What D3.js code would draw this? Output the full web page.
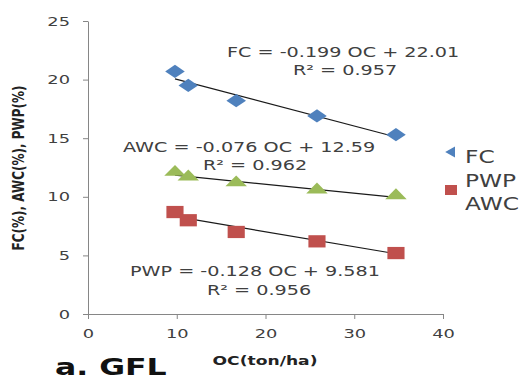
<!DOCTYPE html>
<html lang="en">
<head>
<meta charset="utf-8">
<title>FC, AWC, PWP vs OC</title>
<style>
    body { margin:0; background:#fff; }
    svg text { font-family:"DejaVu Sans", sans-serif; fill:#404040; }
    .axis path, .axis line { stroke:#868686; }
    .axis text { font-size:13px; fill:#404040; }
    .eq { font-size:14px; }
    .lbl { font-weight:bold; fill:#222; }
</style>
</head>
<body>
<svg class="chart"></svg>
<script src="https://cdnjs.cloudflare.com/ajax/libs/d3/7.8.5/d3.min.js"></script>
<script>
// data
var oc  = [9.8, 11.3, 16.7, 25.8, 34.7];
var fc  = [20.7, 19.5, 18.2, 16.9, 15.3];
var awc = [12.1, 11.7, 11.2, 10.6, 10.1];
var pwp = [8.7, 8.0, 7.0, 6.2, 5.2];
var xTicks = [0, 10, 20, 30, 40];
var yTicks = [0, 5, 10, 15, 20, 25];
var legendNames = ['FC', 'PWP', 'AWC'];

var fits = [
    {slope:-0.199, icept:22.01, eq:"FC = -0.199 OC + 22.01",  r2:"R\u00b2 = 0.957"},
    {slope:-0.076, icept:12.59, eq:"AWC = -0.076 OC + 12.59", r2:"R\u00b2 = 0.962"},
    {slope:-0.128, icept:9.581, eq:"PWP = -0.128 OC + 9.581", r2:"R\u00b2 = 0.956"}
];

// the original picture is stretched sideways, so the text is too
var K = 1.37;
function stretch(sel){
    sel.each(function(){
        var w = this.getComputedTextLength();
        d3.select(this).attr('textLength', w * K).attr('lengthAdjust', 'spacingAndGlyphs');
    });
}

var W = 530, H = 376;
var margin = {top:21, left:88, right:87, bottom:62};
var width = W - margin.left - margin.right,
    height = H - margin.top - margin.bottom;

var svg = d3.select('.chart').attr('width', W).attr('height', H);
var chart = svg.append('g')
    .attr('transform', 'translate(' + margin.left + ',' + margin.top + ')');

var x = d3.scaleLinear().domain([0, 40]).range([0, width]);
var y = d3.scaleLinear().domain([0, 25]).range([height, 0]);

//axes
chart.append('g').attr('class', 'axis')
    .attr('transform', 'translate(0,' + height + ')')
    .call(d3.axisBottom(x).tickValues(xTicks).tickSize(5).tickPadding(10).tickSizeOuter(0))
    .selectAll('text').call(stretch);
chart.append('g').attr('class', 'axis')
    .call(d3.axisLeft(y).tickValues(yTicks).tickSize(5).tickPadding(13).tickSizeOuter(0))
    .selectAll('text').call(stretch);

//trend lines
var ext = d3.extent(oc);
fits.forEach(function(f){
    chart.append('line')
        .attr('x1', x(ext[0])).attr('y1', y(f.slope * ext[0] + f.icept))
        .attr('x2', x(ext[1])).attr('y2', y(f.slope * ext[1] + f.icept))
        .attr('stroke', '#1a1a1a').attr('stroke-width', 1.2);
});

//markers (squashed like the source)
var series = [
    {vals:fc,  sym:d3.symbolSquare,   size:98,  rot:45, color:'#4F81BD', sx:1.4,  sy:0.95},
    {vals:awc, sym:d3.symbolTriangle, size:95,  rot:0,  color:'#9BBB59', sx:1.45, sy:0.85},
    {vals:pwp, sym:d3.symbolSquare,   size:150, rot:0,  color:'#C0504D', sx:1.4,  sy:1.0}
];
series.forEach(function(s){
    chart.selectAll(null)
        .data(s.vals)
      .enter().append('path')
        .attr('d', d3.symbol().type(s.sym).size(s.size))
        .attr('fill', s.color)
        .attr('transform', function(d, i){
            return 'translate(' + x(oc[i]) + ',' + y(d) + ') scale(' + s.sx + ',' + s.sy + ') rotate(' + s.rot + ')';
        });
});

//equation labels
var eqPos = [
    {x:227, y1:57,  x2:293, y2:75},
    {x:123, y1:152, x2:203, y2:170},
    {x:130, y1:276, x2:207, y2:295}
];
fits.forEach(function(f, i){
    var p = eqPos[i];
    svg.append('text').attr('class', 'eq').attr('x', p.x).attr('y', p.y1).text(f.eq).call(stretch);
    svg.append('text').attr('class', 'eq').attr('x', p.x2).attr('y', p.y2).text(f.r2).call(stretch);
});

//legend
svg.append('defs').append('clipPath').attr('id', 'half')
  .append('rect').attr('x', -20).attr('y', -20).attr('width', 20).attr('height', 40);
var lg = svg.append('g').attr('transform', 'translate(455,152)');
lg.append('g').attr('clip-path', 'url(#half)')
  .append('path')
    .attr('d', d3.symbol().type(d3.symbolSquare).size(98))
    .attr('fill', '#4F81BD')
    .attr('transform', 'scale(1.4,0.8) rotate(45)');
lg.append('rect').attr('x', -10).attr('y', 33).attr('width', 12).attr('height', 10)
    .attr('fill', '#C0504D');
lg.selectAll(null).data(legendNames).enter().append('text')
    .attr('x', 10).attr('y', function(d, i){ return 11 + i * 23.5; })
    .style('font-size', '17px').style('fill', '#404040')
    .text(function(d){ return d; })
    .call(stretch);

//axis titles
svg.append('text').attr('class', 'lbl')
    .attr('transform', 'translate(24,168) scale(' + K + ',1) rotate(-90)')
    .attr('text-anchor', 'middle').style('font-size', '12px')
    .text('FC(%), AWC(%), PWP(%)');
svg.append('text').attr('class', 'lbl')
    .attr('x', 265).attr('y', 365).attr('text-anchor', 'middle')
    .style('font-size', '12.5px')
    .text('OC(ton/ha)')
    .call(stretch);
svg.append('text').attr('class', 'lbl')
    .attr('x', 55).attr('y', 375)
    .style('font-size', '23px').style('fill', '#111')
    .text('a. GFL')
    .call(stretch);
</script>
</body>
</html>
